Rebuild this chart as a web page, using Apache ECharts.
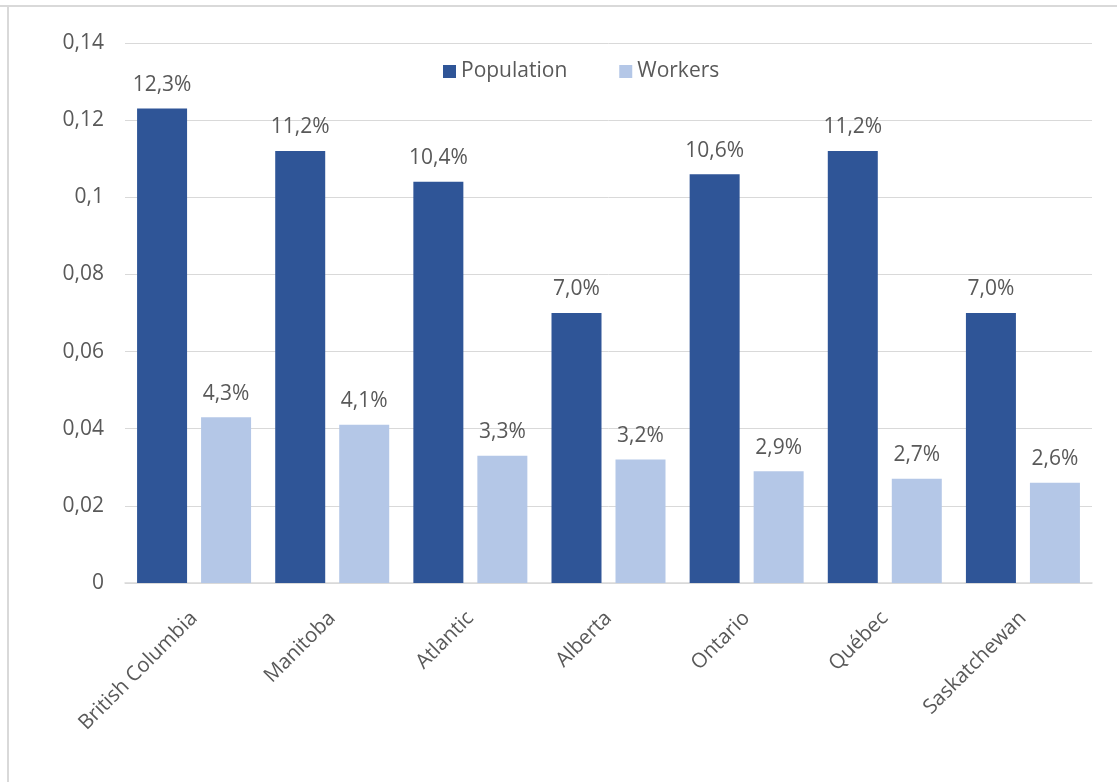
<!DOCTYPE html>
<html>
<head>
<meta charset="utf-8">
<script src="https://cdn.jsdelivr.net/npm/echarts@6/dist/echarts.min.js"></script>
<style>
html,body{margin:0;padding:0;background:#fff;}
#chart{width:1117px;height:782px;}
</style>
</head>
<body>
<div id="chart"></div>
<script>
const categories = ['British Columbia','Manitoba','Atlantic','Alberta','Ontario','Québec','Saskatchewan'];
const population = [0.123, 0.112, 0.104, 0.070, 0.106, 0.112, 0.070];
const workers = [0.043, 0.041, 0.033, 0.032, 0.029, 0.027, 0.026];
const seriesNames = ['Population','Workers'];

const font = '"Open Sans", "Noto Sans", sans-serif';
const txt = '#595959';
const pct = p => (p.value*100).toFixed(1).replace('.', ',') + '%';

const chart = echarts.init(document.getElementById('chart'), null, {renderer:'canvas'});
chart.setOption({
  animation:false,
  backgroundColor:'#fff',
  textStyle:{fontFamily:font},
  graphic:[
    {type:'line', shape:{x1:0,y1:6,x2:1117,y2:6}, style:{stroke:'#d9d9d9', lineWidth:2}},
    {type:'line', shape:{x1:8,y1:6,x2:8,y2:782}, style:{stroke:'#d9d9d9', lineWidth:2}}
  ],
  legend:{
    data:seriesNames,
    top:56, left:438,
    itemWidth:13, itemHeight:13, itemGap:52,
    icon:'rect',
    textStyle:{color:txt, fontSize:21, fontFamily:font}
  },
  grid:{left:125, right:25, top:43, bottom:199},
  xAxis:{
    type:'category',
    data:categories,
    axisLine:{lineStyle:{color:'#d9d9d9', width:1.5}},
    axisTick:{show:false},
    axisLabel:{rotate:45, color:txt, fontSize:20.5, fontFamily:font, margin:32, interval:0}
  },
  yAxis:{
    type:'value',
    min:0, max:0.14, interval:0.02,
    axisLine:{show:false},
    axisTick:{show:false},
    splitLine:{lineStyle:{color:'#d9d9d9', width:1}},
    axisLabel:{color:txt, fontSize:21, fontFamily:font, margin:21,
      formatter:v => String(+v.toFixed(2)).replace('.', ',')}
  },
  series:[
    {name:seriesNames[0], type:'bar', data:population, barWidth:50, barGap:'28%',
     itemStyle:{color:'#2F5597'},
     label:{show:true, position:'top', distance:13, color:txt, fontSize:21, fontFamily:font, formatter:pct}},
    {name:seriesNames[1], type:'bar', data:workers, barWidth:50,
     itemStyle:{color:'#B4C7E7'},
     label:{show:true, position:'top', distance:13, color:txt, fontSize:21, fontFamily:font, formatter:pct}}
  ]
});
</script>
</body>
</html>
